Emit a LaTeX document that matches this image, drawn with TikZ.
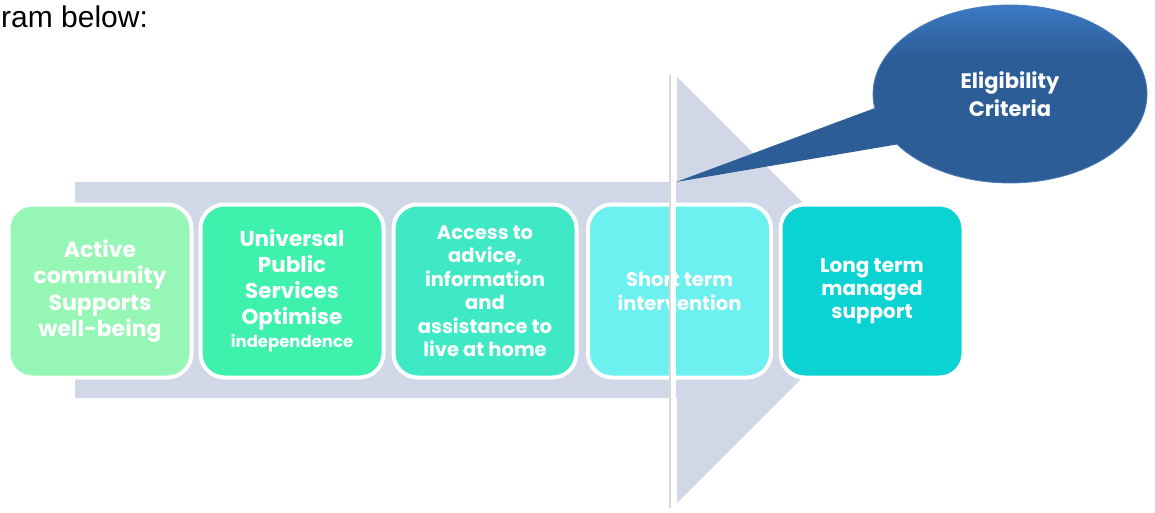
\documentclass[tikz,border=0pt]{standalone}
\usepackage{fontspec}
\setmainfont{Liberation Sans}
\newfontfamily\gothic{Poppins}
\usepackage{tikz}
\usetikzlibrary{shapes.geometric}

\definecolor{arrowgrey}{HTML}{D0D8E8}
\definecolor{stageA}{HTML}{96F6B6}
\definecolor{stageB}{HTML}{3EF2AD}
\definecolor{stageC}{HTML}{3FE9C5}
\definecolor{stageD}{HTML}{6CF0F0}
\definecolor{stageE}{HTML}{0BD3D3}
\definecolor{bubbleblue}{HTML}{2D5D97}
\definecolor{bubbletop}{HTML}{3A79C3}
\definecolor{bubbleedge}{HTML}{4A7EC0}
\pgfdeclareverticalshading{bubbleshade}{100bp}{color(0bp)=(bubbleblue); color(60bp)=(bubbleblue); color(75bp)=(bubbletop); color(100bp)=(bubbletop)}

\begin{document}
\begin{tikzpicture}[x=1pt,y=-1pt,
  stage/.style 2 args={rounded corners=24pt, draw=white, line width=4pt, minimum width=183pt, minimum height=173pt, inner sep=2pt, text=white, align=center, font=\gothic\bfseries\fontsize{#1}{#2}\selectfont},
  bubble/.style={ellipse, shading=bubbleshade, draw=bubbleedge, line width=0.8pt, minimum width=274pt, minimum height=178pt, text=white, align=center, font=\gothic\bfseries\fontsize{21}{28}\selectfont}]

\useasboundingbox (0,0) rectangle (1155,513);

\node[anchor=base west, inner sep=0pt, font=\fontsize{30}{36}\selectfont] (title) at (1,28) {ram below:};

\fill[arrowgrey] (75,182) -- (677,182) -- (677,77) -- (890,290) -- (677,503) -- (677,398) -- (75,398) -- cycle;

\node[stage={22}{26.5}, fill=stageA] (active) at (100,291) {Active\\community\\Supports\\well-being};
\node[stage={21.5}{26}, fill=stageB] (universal) at (292,291) {Universal\\Public\\Services\\Optimise\\[-3pt]{\fontsize{16.5}{20}\selectfont independence}};
\node[stage={19.5}{23.5}, fill=stageC] (access) at (485,291) {Access to\\advice,\\information\\and\\assistance to\\live at home};
\node[stage={19.5}{24}, fill=stageD] (short) at (679.5,291) {Short term\\intervention};
\node[stage={20}{23}, fill=stageE] (long) at (872,291) {Long term\\managed\\support};

\draw[black!15, line width=2pt] (670,75) -- (670,508);
\draw[white, line width=5pt] (673.5,75) -- (673.5,508);

\node[bubble] (crit) at (1010,94) {Eligibility\\Criteria};
\coordinate (tip) at (676,182);
\fill[bubbleblue] (crit.186) -- (tip) -- (crit.204) -- cycle;
\end{tikzpicture}
\end{document}
